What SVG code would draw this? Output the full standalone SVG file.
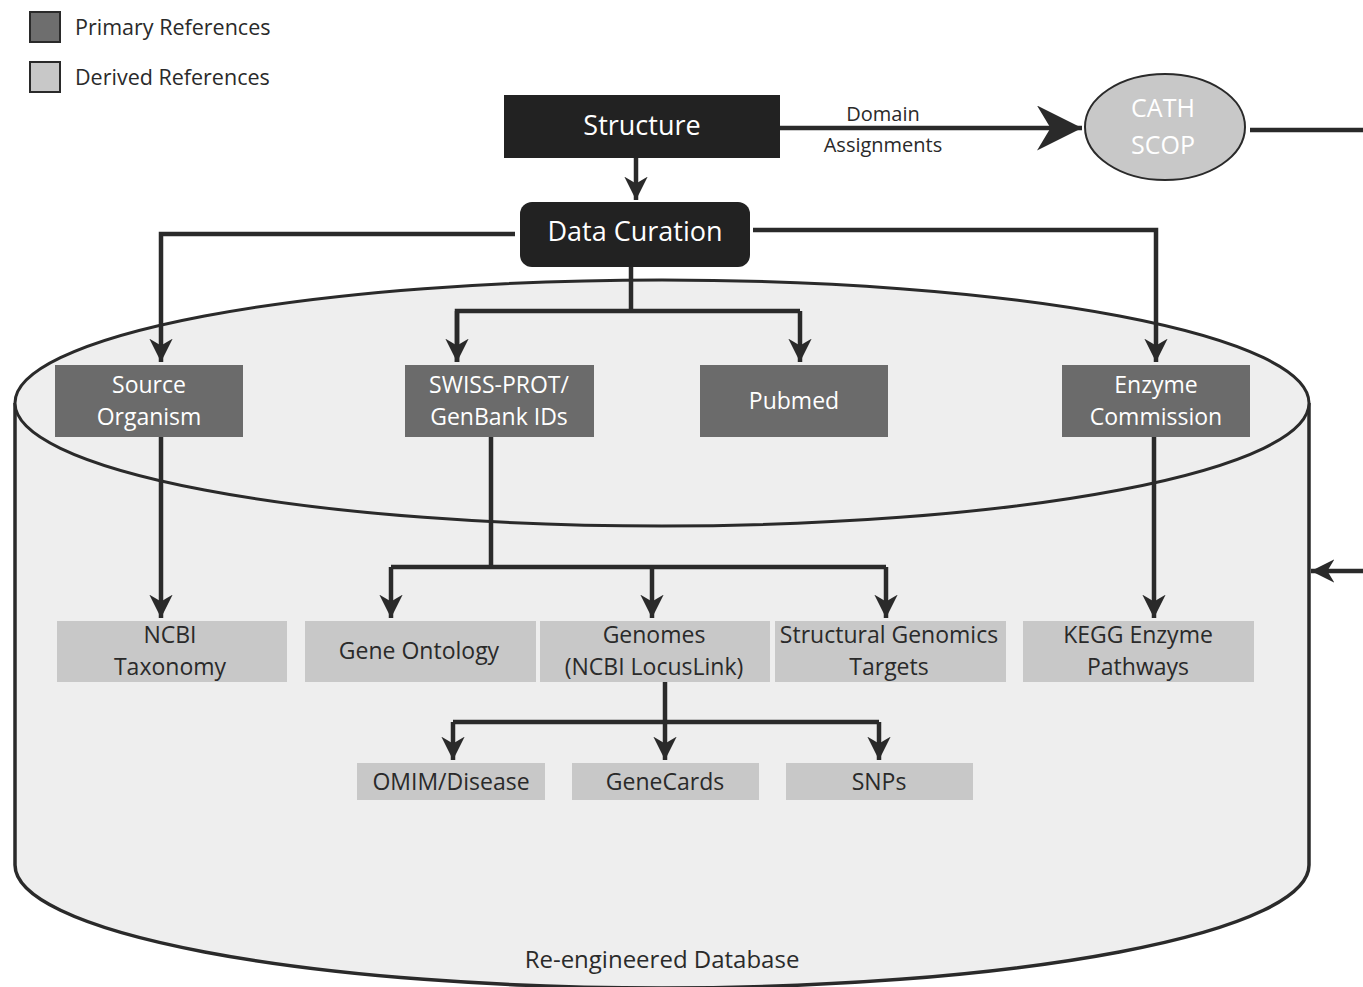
<svg xmlns="http://www.w3.org/2000/svg" width="1363" height="987" viewBox="0 0 1363 987">
<style>
text{font-family:"Open Sans","Liberation Sans",sans-serif;}
.prim{fill:#6b6b6b;}
.der{fill:#c8c8c8;}
.wt{fill:#fff;font-size:23px;text-anchor:middle;}
.dt{fill:#2a2a2a;font-size:23px;text-anchor:middle;}
.conn{fill:none;stroke:#2a2a2a;stroke-width:4.5;}
</style>
<defs>
<marker id="ah" viewBox="0 0 10 10" refX="10" refY="5" markerWidth="5.2" markerHeight="5.2" orient="auto" markerUnits="strokeWidth">
<path d="M0,0 L10,5 L0,10 L3,5 z" fill="#2a2a2a"/>
</marker>
<marker id="ahbig" viewBox="0 0 10 10" refX="10" refY="5" markerWidth="11" markerHeight="10" orient="auto" markerUnits="strokeWidth">
<path d="M0,0 L10,5 L0,10 L3,5 z" fill="#2a2a2a"/>
</marker>
</defs>
<rect width="1363" height="987" fill="#fff"/>

<g id="legend">
<rect x="30" y="12" width="30" height="30" fill="#6e6e6e" stroke="#2a2a2a" stroke-width="2"/>
<text x="75" y="35" style="font-size:21.5px;fill:#2a2a2a">Primary References</text>
<rect x="30" y="62" width="30" height="30" fill="#c8c8c8" stroke="#2a2a2a" stroke-width="2"/>
<text x="75" y="85" style="font-size:21.5px;fill:#2a2a2a">Derived References</text>
</g>

<g id="database">
<path d="M15,403 L15,865 A647,123 0 0 0 1309,865 L1309,403" fill="#eeeeee" stroke="#2a2a2a" stroke-width="3.5"/>
<ellipse cx="662" cy="403" rx="647" ry="123" fill="#eeeeee" stroke="#2a2a2a" stroke-width="3"/>
<text x="662" y="968" class="dt" style="font-size:24px">Re-engineered Database</text>
</g>

<g id="connectors">
<line class="conn" x1="636" y1="158" x2="636" y2="200" marker-end="url(#ah)"/>
<line class="conn" x1="780" y1="128" x2="1082" y2="128" marker-end="url(#ahbig)"/>
<line class="conn" x1="1250" y1="130" x2="1363" y2="130"/>
<line class="conn" x1="1363" y1="571" x2="1311" y2="571" marker-end="url(#ah)"/>
<polyline class="conn" points="515,234 161,234 161,362" marker-end="url(#ah)"/>
<polyline class="conn" points="753,230 1156,230 1156,362" marker-end="url(#ah)"/>
<line class="conn" x1="631" y1="267" x2="631" y2="311"/>
<polyline class="conn" points="457,362 457,311 800,311" marker-start="url(#ah)" style="marker-start:none"/>
<line class="conn" x1="457" y1="311" x2="457" y2="362" marker-end="url(#ah)"/>
<line class="conn" x1="800" y1="311" x2="800" y2="362" marker-end="url(#ah)"/>
<line class="conn" x1="161" y1="437" x2="161" y2="618" marker-end="url(#ah)"/>
<line class="conn" x1="1154" y1="437" x2="1154" y2="618" marker-end="url(#ah)"/>
<line class="conn" x1="491" y1="437" x2="491" y2="567"/>
<line class="conn" x1="391" y1="567" x2="886" y2="567"/>
<line class="conn" x1="391" y1="567" x2="391" y2="618" marker-end="url(#ah)"/>
<line class="conn" x1="652" y1="567" x2="652" y2="618" marker-end="url(#ah)"/>
<line class="conn" x1="886" y1="567" x2="886" y2="618" marker-end="url(#ah)"/>
<line class="conn" x1="665" y1="682" x2="665" y2="722"/>
<line class="conn" x1="453" y1="722" x2="879" y2="722"/>
<line class="conn" x1="453" y1="722" x2="453" y2="760" marker-end="url(#ah)"/>
<line class="conn" x1="665" y1="722" x2="665" y2="760" marker-end="url(#ah)"/>
<line class="conn" x1="879" y1="722" x2="879" y2="760" marker-end="url(#ah)"/>
<text x="883" y="121" style="font-size:20px;fill:#2a2a2a;text-anchor:middle">Domain</text>
<text x="883" y="152" style="font-size:20px;fill:#2a2a2a;text-anchor:middle">Assignments</text>
</g>

<g id="structure">
<rect x="504" y="95" width="276" height="63" fill="#222"/>
<text x="642" y="135" class="wt" style="font-size:27px">Structure</text>
</g>
<g id="cath">
<ellipse cx="1165" cy="127" rx="80" ry="53" fill="#c8c8c8" stroke="#2a2a2a" stroke-width="2"/>
<text x="1163" y="117" class="wt" style="font-size:25px">CATH</text>
<text x="1163" y="154" class="wt" style="font-size:25px">SCOP</text>
</g>
<g id="curation">
<rect x="520" y="202" width="230" height="65" rx="12" fill="#222"/>
<text x="635" y="241" class="wt" style="font-size:27px">Data Curation</text>
</g>

<g id="source"><rect x="55" y="365" width="188" height="72" class="prim"/>
<text x="149" y="393" class="wt">Source</text><text x="149" y="425" class="wt">Organism</text></g>
<g id="swissprot"><rect x="405" y="365" width="189" height="72" class="prim"/>
<text x="499" y="393" class="wt">SWISS-PROT/</text><text x="499" y="425" class="wt">GenBank IDs</text></g>
<g id="pubmed"><rect x="700" y="365" width="188" height="72" class="prim"/>
<text x="794" y="409" class="wt">Pubmed</text></g>
<g id="enzyme"><rect x="1062" y="365" width="188" height="72" class="prim"/>
<text x="1156" y="393" class="wt">Enzyme</text><text x="1156" y="425" class="wt">Commission</text></g>

<g id="ncbi"><rect x="57" y="621" width="230" height="61" class="der"/>
<text x="170" y="643" class="dt">NCBI</text><text x="170" y="675" class="dt">Taxonomy</text></g>
<g id="go"><rect x="305" y="621" width="231" height="61" class="der"/>
<text x="419" y="659" class="dt">Gene Ontology</text></g>
<g id="genomes"><rect x="540" y="621" width="230" height="61" class="der"/>
<text x="654" y="643" class="dt">Genomes</text><text x="654" y="675" class="dt">(NCBI LocusLink)</text></g>
<g id="sgt"><rect x="775" y="621" width="231" height="61" class="der"/>
<text x="889" y="643" class="dt">Structural Genomics</text><text x="889" y="675" class="dt">Targets</text></g>
<g id="kegg"><rect x="1023" y="621" width="231" height="61" class="der"/>
<text x="1138" y="643" class="dt">KEGG Enzyme</text><text x="1138" y="675" class="dt">Pathways</text></g>

<g id="omim"><rect x="357" y="763" width="188" height="37" class="der"/>
<text x="451" y="790" class="dt">OMIM/Disease</text></g>
<g id="genecards"><rect x="572" y="763" width="187" height="37" class="der"/>
<text x="665" y="790" class="dt">GeneCards</text></g>
<g id="snps"><rect x="786" y="763" width="187" height="37" class="der"/>
<text x="879" y="790" class="dt">SNPs</text></g>
</svg>
